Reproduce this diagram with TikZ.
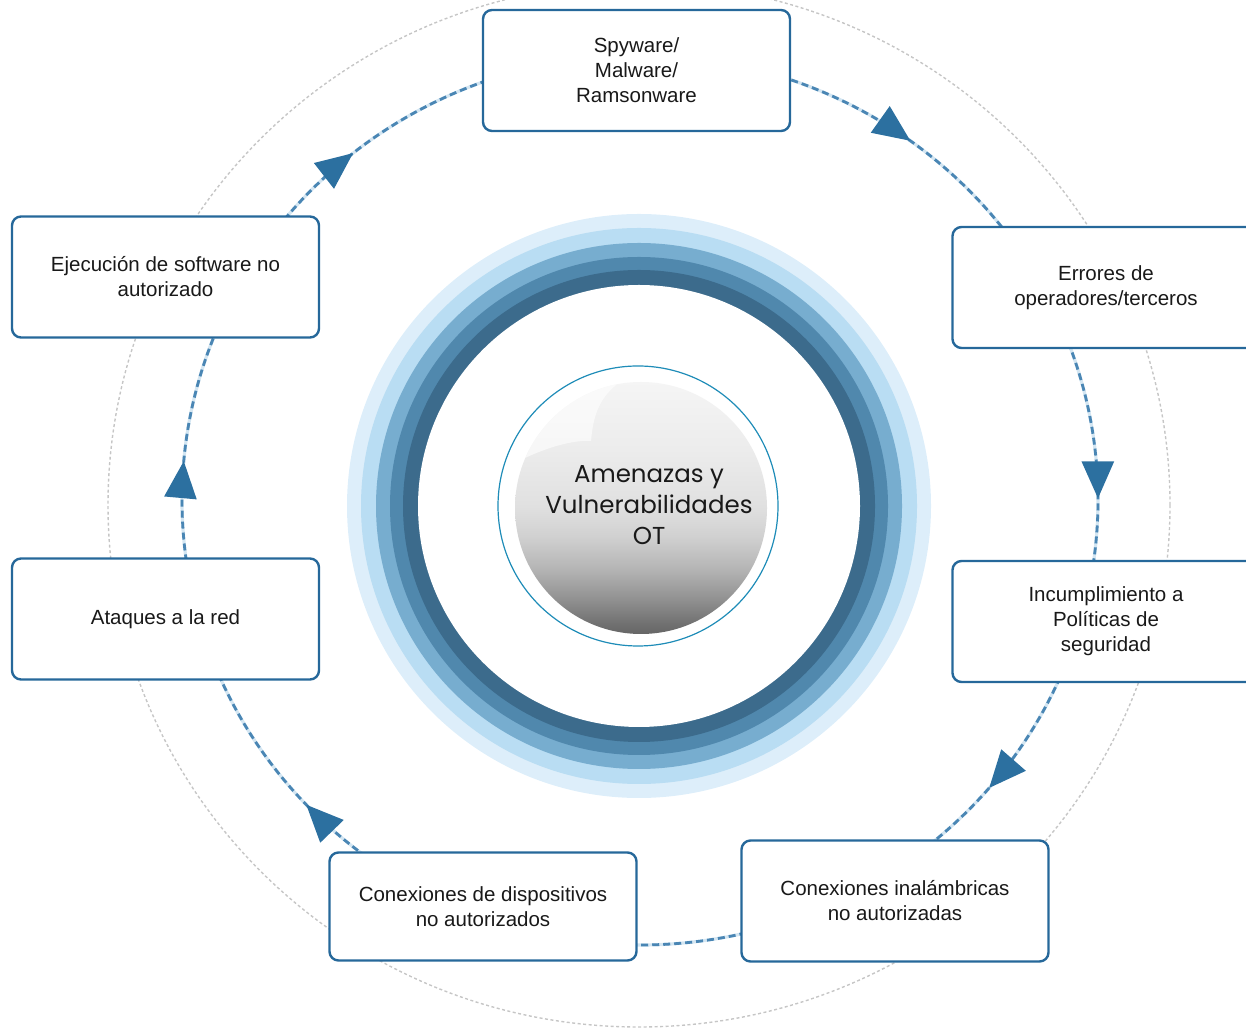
\documentclass[tikz,border=0pt]{standalone}
\usepackage{fontspec}
\setmainfont{Liberation Sans}
\newfontfamily\orbfont{Poppins}
\usepackage{xcolor}
\usepackage{tikz}
\usetikzlibrary{arrows.meta,calc,decorations.markings}
\definecolor{boxline}{RGB}{38,104,154}
\definecolor{flow}{RGB}{74,134,180}
\definecolor{flowhalo}{RGB}{212,230,242}
\definecolor{tipblue}{RGB}{44,112,160}
\definecolor{orbit}{RGB}{198,198,198}
\definecolor{orbedge}{RGB}{30,140,184}
\definecolor{ringA}{RGB}{221,238,250}
\definecolor{ringB}{RGB}{185,221,243}
\definecolor{ringC}{RGB}{119,173,207}
\definecolor{ringD}{RGB}{80,136,173}
\definecolor{ringE}{RGB}{60,107,140}
\pgfdeclareverticalshading{orbshade}{100bp}{%
  rgb(0bp)=(0.40,0.40,0.40);
  rgb(25bp)=(0.40,0.40,0.40);
  rgb(27bp)=(0.44,0.44,0.44);
  rgb(32bp)=(0.57,0.57,0.57);
  rgb(38bp)=(0.71,0.71,0.71);
  rgb(44.5bp)=(0.82,0.82,0.82);
  rgb(50.5bp)=(0.88,0.88,0.88);
  rgb(61.5bp)=(0.925,0.925,0.925);
  rgb(75bp)=(0.96,0.96,0.96);
  rgb(100bp)=(0.96,0.96,0.96)}

\begin{document}
\begin{tikzpicture}[x=1pt,y=1pt,
  threat/.style={draw=boxline,line width=2.4pt,fill=white,rounded corners=9pt,
    minimum width=307pt,minimum height=121pt,align=center,
    font=\fontsize{20.5}{25}\selectfont,text=black!90},
  cycleflow/.style={flow,line width=2.8pt,dash pattern=on 7pt off 4pt,
    preaction={draw=flowhalo,solid,line width=3.2pt}},
  tipat/.style={postaction={decorate},decoration={markings,
    mark=at position #1 with {\arrow{Triangle[length=37pt,width=32pt,color=tipblue]}}}}]
\useasboundingbox (0,0) rectangle (1246,1030);
\clip (0,0) rectangle (1246,1030);
\coordinate (core) at (639,524);
\coordinate (hub) at (640,530);
% outer guide
\draw[orbit,line width=1.4pt,dash pattern=on 3pt off 2.5pt] (639,525) ellipse [x radius=531,y radius=522];
% rings
\foreach \r/\col in {292/ringA,278/ringB,263/ringC,249/ringD,236/ringE,221/white}
  \fill[\col] (core) circle[radius=\r];
% orb
\draw[orbedge,line width=1.2pt] (638,524) circle[radius=140];
\shade[shading=orbshade] (641,522) circle[radius=126];
\begin{scope}
  \clip (641,522) circle[radius=126];
  \fill[white,opacity=0.6] (525,572) .. controls (555,586) and (578,590) .. (591,589)
    .. controls (593,612) and (598,630) .. (616,645) -- (616,660) -- (500,660) -- (500,572) -- cycle;
\end{scope}
\node[font=\orbfont\fontsize{24.5}{31}\selectfont,align=center,text=black!90] (core-label) at (649,525)
  {Amenazas y\\Vulnerabilidades\\OT};
% cycle
\foreach \name/\ang in {spy/90,err/25,inc/-15,ina/-60,dis/-110,ata/-165,eje/-205}
  \coordinate (\name-o) at ($(hub)+(\ang:458 and 445)$);
\foreach \from/\a/\b/\pos in {spy/90/25/0.56,err/25/-15/0.62,inc/-15/-60/0.56,
    dis/-110/-165/0.49,ata/-165/-205/0.50,eje/-205/-270/0.40}
  \draw[cycleflow,tipat=\pos] (\from-o) arc[start angle=\a,end angle=\b,x radius=458,y radius=445];
\draw[cycleflow] (ina-o) arc[start angle=-60,end angle=-110,x radius=458,y radius=445];
% threats
\node[threat] (spy) at (636.5,959.5) {Spyware/\\Malware/\\Ramsonware};
\node[threat] (err) at (1106,742.5) {Errores de\\operadores/terceros};
\node[threat] (inc) at (1106,408.5) {Incumplimiento a\\Políticas de\\seguridad};
\node[threat] (ina) at (895,129) {Conexiones inalámbricas\\no autorizadas};
\node[threat,minimum height=108pt] (dis) at (483,123.5) {Conexiones de dispositivos\\no autorizados};
\node[threat] (ata) at (165.5,411) {Ataques a la red};
\node[threat] (eje) at (165.5,753) {Ejecución de software no\\autorizado};
\end{tikzpicture}
\end{document}
